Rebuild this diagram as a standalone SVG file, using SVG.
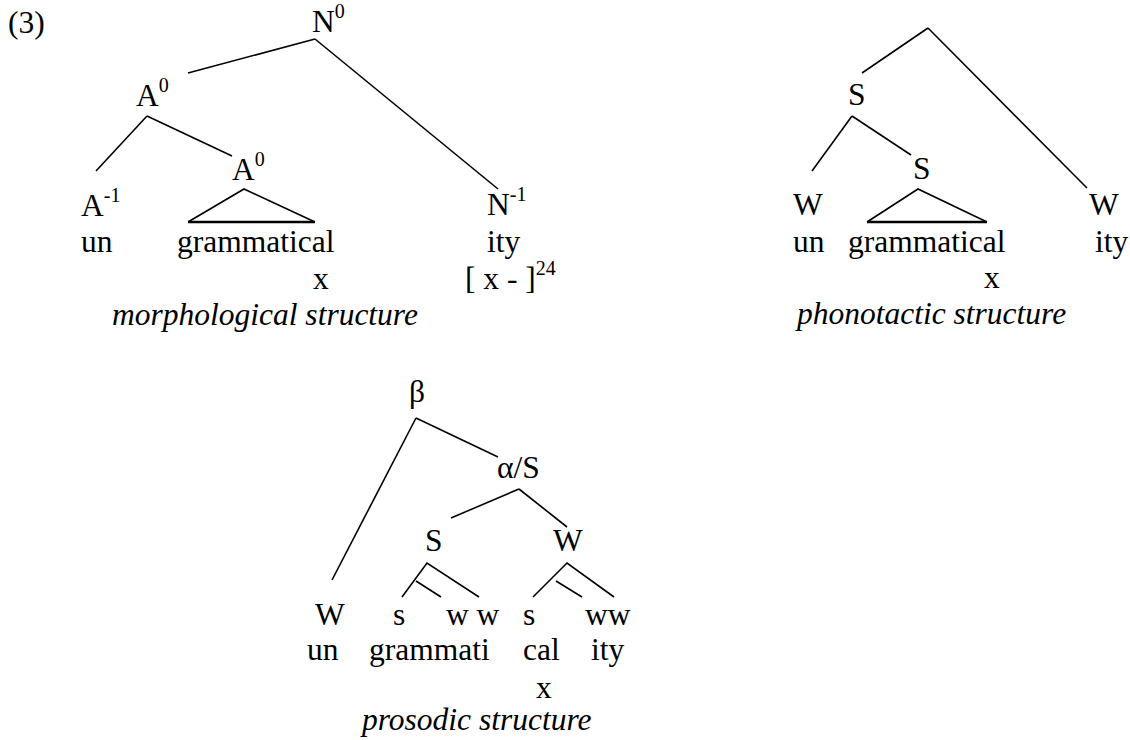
<svg xmlns="http://www.w3.org/2000/svg" width="1130" height="740" viewBox="0 0 1130 740" font-family="Liberation Serif, serif">
<style>
text{font-family:"Liberation Serif","Times New Roman",serif;font-size:31.5px;fill:#000}
.sup{font-size:20px}
.it{font-style:italic}
line,polyline{stroke:#000;stroke-width:1.6;fill:none}
.base{stroke-width:2.6}
</style>
<rect width="1130" height="740" fill="#fff"/>
<text x="8" y="33">(3)</text>
<g id="connectors">
<line x1="315" y1="39" x2="188" y2="73"/>
<line x1="315" y1="39" x2="498" y2="189"/>
<line x1="147" y1="116" x2="96" y2="171"/>
<line x1="147" y1="116" x2="232" y2="156"/>
<polyline points="188,222 244,189 315,222"/>
<line class="base" x1="188" y1="222" x2="315" y2="222"/>
<line x1="928" y1="28" x2="862" y2="73"/>
<line x1="928" y1="28" x2="1087" y2="188"/>
<line x1="852" y1="116" x2="812" y2="171"/>
<line x1="852" y1="116" x2="911" y2="155"/>
<polyline points="867,222 918,189 987,222"/>
<line class="base" x1="867" y1="222" x2="987" y2="222"/>
<line x1="416" y1="418" x2="498" y2="457"/>
<line x1="416" y1="418" x2="332" y2="580"/>
<line x1="519" y1="489" x2="451" y2="518"/>
<line x1="519" y1="489" x2="567" y2="527"/>
<polyline points="402,597 427,563 479,597"/>
<line x1="416" y1="581" x2="441" y2="597"/>
<polyline points="533,597 567,563 614,597"/>
<line x1="556" y1="581" x2="582" y2="597"/>
</g>
<g id="morph">
<g id="n0"><text x="312" y="32">N<tspan class="sup" dy="-14">0</tspan></text></g>
<g id="a0-top"><text x="136" y="106">A<tspan class="sup" dy="-14">0</tspan></text></g>
<g id="a0-low"><text x="232" y="180">A<tspan class="sup" dy="-14">0</tspan></text></g>
<g id="a-1"><text x="81" y="216">A<tspan class="sup" dy="-14">-1</tspan></text></g>
<g id="n-1"><text x="487" y="215">N<tspan class="sup" dy="-14">-1</tspan></text></g>
<g id="m-un"><text x="81" y="252">un</text></g>
<g id="m-gram"><text x="177" y="252">grammatical</text></g>
<g id="m-ity"><text x="487" y="252">ity</text></g>
<g id="m-x"><text x="313" y="289">x</text></g>
<g id="m-bracket"><text x="465" y="289">[ x - ]<tspan class="sup" dy="-14">24</tspan></text></g>
<text class="it" x="112" y="325">morphological structure</text>
</g>
<g id="phono">
<g id="p-s1"><text x="848" y="105">S</text></g>
<g id="p-s2"><text x="913" y="179">S</text></g>
<g id="p-w1"><text x="793" y="215">W</text></g>
<g id="p-w2"><text x="1089" y="215">W</text></g>
<g id="p-un"><text x="793" y="252">un</text></g>
<g id="p-gram"><text x="848" y="252">grammatical</text></g>
<g id="p-ity"><text x="1095" y="252">ity</text></g>
<g id="p-x"><text x="984" y="288">x</text></g>
<text class="it" x="797" y="324">phonotactic structure</text>
</g>
<g id="pros">
<g id="beta"><text x="409" y="402">β</text></g>
<g id="alpha"><text x="497" y="478">α/S</text></g>
<g id="r-s"><text x="425" y="551">S</text></g>
<g id="r-w"><text x="553" y="551">W</text></g>
<g id="r-W"><text x="315" y="625">W</text></g>
<g id="r-s1"><text x="393" y="625">s</text></g>
<g id="r-ww1"><text x="446" y="625">w w</text></g>
<g id="r-s2"><text x="523" y="625">s</text></g>
<g id="r-ww2"><text x="585" y="625">ww</text></g>
<g id="r-un"><text x="307" y="660">un</text></g>
<g id="r-gram"><text x="369" y="660">grammati</text></g>
<g id="r-cal"><text x="523" y="660">cal</text></g>
<g id="r-ity"><text x="591" y="660">ity</text></g>
<g id="r-x"><text x="536" y="698">x</text></g>
<text class="it" x="362" y="730">prosodic structure</text>
</g>
</svg>
